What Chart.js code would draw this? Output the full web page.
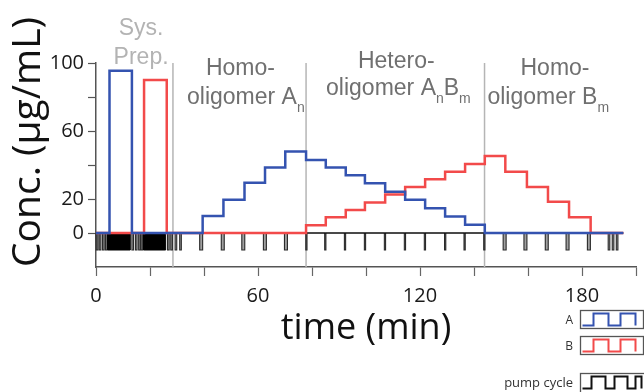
<!DOCTYPE html>
<html>
<head>
<meta charset="utf-8">
<script src="https://cdn.jsdelivr.net/npm/chart.js@4.4.1/dist/chart.umd.min.js"></script>
<style>
  html, body { margin: 0; padding: 0; background: #fff; }
</style>
</head>
<body>
<canvas id="chart" width="644" height="392"></canvas>
<script>
// concentration steps: each value holds from its time until the next time (min, µg/mL)
const timeA = [0, 5, 13.3, 39.5, 47.2, 55, 62.6, 70.1, 77.8, 85.1, 92.5, 99.6, 107.1, 114.5, 121.9, 129.3, 136.7, 144, 195.3];
const concA = [0, 95.5, 0, 10, 19.5, 29.5, 38.5, 48, 43, 38.5, 34, 29.2, 24.3, 19.5, 14.5, 9.7, 4.8, 0, 0];
const timeB = [0, 17.8, 26.2, 77.8, 85.1, 92.5, 99.6, 107.1, 114.5, 121.9, 129.3, 136.7, 144, 151.6, 159.6, 167.4, 175.2, 183.2, 195.3];
const concB = [0, 90, 0, 4.6, 9.2, 13.5, 18, 22.7, 27, 31.6, 36, 40.6, 45.3, 36, 27, 18.4, 9.2, 0, 0];

// pump cycle pulses (min)
const pumpOn  = [0.1, 1.2, 2.4, 3.5, 13.3, 14.6, 15.8, 16.7, 26.5, 27.7, 29.3, 31.0,
                 38.4, 46.4, 54.0, 62.0, 69.8,
                 77.7, 84.7, 92.0, 99.4, 106.8, 114.2, 121.6, 129.1, 136.3, 143.6,
                 150.8, 158.5, 166.4, 174.1, 182.0, 189.7, 191.2, 192.7];
const pumpOff = [0.7, 1.8, 3.0, 4.1, 13.9, 15.2, 16.4, 17.3, 27.1, 28.3, 29.9, 31.6,
                 39.5, 47.5, 55.1, 63.1, 70.9,
                 78.15, 85.15, 92.45, 99.85, 107.25, 114.65, 122.05, 129.55, 136.75, 144.05,
                 151.9, 159.6, 167.5, 175.2, 183.1, 190.3, 191.8, 193.3];
// fast pumping during system prep
const fastOn  = [4.3, 17.6];
const fastOff = [12.7, 25.8];

const phaseEdges = [28.5, 77.8, 143.9];
const xLabels = [0, 60, 120, 180];
const yLabels = [0, 20, 60, 100];

const BLUE = '#3453b0';
const RED = '#f24a4a';
const PUMP_LOW = -10;
const FONT = "'Open Sans', 'Liberation Sans', sans-serif";
const NOTE_FONT = "'Liberation Sans', Arial, sans-serif";

const stepPts = (ts, vs) => ts.map((t, i) => ({ x: t, y: vs[i] }));

function pulsePts(on, off, end) {
  const pts = [{ x: 0, y: 0 }];
  on.forEach((t, i) => {
    pts.push({ x: t, y: 0 }, { x: t, y: PUMP_LOW }, { x: off[i], y: PUMP_LOW }, { x: off[i], y: 0 });
  });
  pts.push({ x: end, y: 0 });
  return pts;
}

const tEnd = timeA[timeA.length - 1];

const datasets = [
  { data: stepPts(timeA, concA), stepped: true, borderColor: BLUE, borderWidth: 2.5, order: 0 },
  { data: stepPts(timeB, concB), stepped: true, borderColor: RED, borderWidth: 2.5, order: 1 },
  { data: pulsePts(fastOn, fastOff, tEnd), borderColor: '#000', borderWidth: 1,
    backgroundColor: '#000', fill: { value: 0 }, order: 2 },
  { data: pulsePts(pumpOn, pumpOff, tEnd), borderColor: '#2a2a2a', borderWidth: 1.1,
    backgroundColor: '#a0a0a0', fill: { value: 0 }, order: 3 },
  ...phaseEdges.map((t) => ({
    data: [{ x: t, y: -20 }, { x: t, y: 100 }], borderColor: '#b5b5b5', borderWidth: 1.5, order: 4,
  })),
];
datasets.forEach((d) => { d.pointRadius = 0; d.borderJoinStyle = 'miter'; d.clip = 4; });

// phase annotations above the plot
const notes = [
  { x: 16.7, y: 35, color: '#b3b3b3', runs: [['Sys.']] },
  { x: 16.7, y: 64, color: '#b3b3b3', runs: [['Prep.']] },
  { x: 53.5, y: 75, color: '#707070', runs: [['Homo-']] },
  { x: 55.5, y: 104, color: '#707070', runs: [['oligomer A'], ['n', 1]] },
  { x: 111.2, y: 68, color: '#707070', runs: [['Hetero-']] },
  { x: 112, y: 95, color: '#707070', runs: [['oligomer A'], ['n', 1], ['B'], ['m', 1]] },
  { x: 170, y: 75, color: '#707070', runs: [['Homo-']] },
  { x: 167.5, y: 104, color: '#707070', runs: [['oligomer B'], ['m', 1]] },
];

const legendItems = [
  { label: 'A', color: BLUE, wave: [2, 13, 28, 40, 55] },
  { label: 'B', color: RED, wave: [2, 13, 28, 40, 55] },
  { label: 'pump cycle', color: '#111', wave: [2, 11, 25, 34, 47, 55, 61] },
];

const decor = {
  id: 'decor',
  afterDraw(chart) {
    const ctx = chart.ctx;
    const xs = chart.scales.x;
    ctx.save();
    ctx.textBaseline = 'alphabetic';
    notes.forEach((n) => {
      const fonts = n.runs.map((r) => (r[1] ? `14px ${NOTE_FONT}` : `23px ${NOTE_FONT}`));
      let w = 0;
      n.runs.forEach((r, i) => { ctx.font = fonts[i]; w += ctx.measureText(r[0]).width; });
      let px = xs.getPixelForValue(n.x) - w / 2;
      ctx.fillStyle = n.color;
      ctx.textAlign = 'left';
      n.runs.forEach((r, i) => {
        ctx.font = fonts[i];
        ctx.fillText(r[0], px, n.y + (r[1] ? 8 : 0));
        px += ctx.measureText(r[0]).width;
      });
    });

    // legend boxes, bottom right
    const boxX = 580.5, boxW = 63, boxH = 18;
    const tops = [310.5, 336.5, 373.5];
    legendItems.forEach((it, i) => {
      const top = tops[i];
      ctx.strokeStyle = '#555';
      ctx.lineWidth = 1.3;
      ctx.strokeRect(boxX, top, boxW + (i === 2 ? 4 : 0), boxH + (i === 2 ? 4 : 0));
      const lo = top + boxH - 3, hi = top + 3;
      ctx.strokeStyle = it.color;
      ctx.lineWidth = 2;
      ctx.beginPath();
      ctx.moveTo(boxX + it.wave[0], lo);
      let y = lo;
      for (let k = 1; k < it.wave.length; k++) {
        const x = boxX + it.wave[k];
        ctx.lineTo(x, y);
        y = y === lo ? hi : lo;
        ctx.lineTo(x, y);
      }
      ctx.stroke();
      ctx.fillStyle = '#333';
      ctx.font = `${i === 2 ? 13 : 12}px ${FONT}`;
      ctx.textAlign = 'right';
      ctx.textBaseline = 'middle';
      ctx.fillText(it.label, 573, top + boxH / 2 + 1);
    });
    ctx.restore();
  },
};

new Chart(document.getElementById('chart'), {
  type: 'line',
  data: { datasets },
  options: {
    responsive: false,
    animation: false,
    events: [],
    layout: { padding: { top: 63, right: 3, left: 0, bottom: 0 } },
    plugins: { legend: { display: false }, tooltip: { enabled: false } },
    scales: {
      x: {
        type: 'linear', min: 0, max: 200,
        afterFit: (s) => { s.height = 125; },
        border: { color: '#555', width: 1.5 },
        grid: { drawOnChartArea: false, tickLength: 9, tickColor: '#666', tickWidth: 1.2 },
        ticks: {
          stepSize: 20, autoSkip: false, maxRotation: 0, padding: 8, color: '#1a1a1a',
          font: { family: FONT, size: 20 },
          callback: (v) => (xLabels.includes(v) ? String(v) : ''),
        },
        title: {
          display: true, text: 'time (min)', color: '#111',
          font: { family: FONT, size: 36 }, padding: { top: 0, bottom: 42 },
        },
      },
      y: {
        type: 'linear', min: -20, max: 100,
        afterFit: (s) => { s.width = 96; },
        border: { color: '#555', width: 1.5 },
        grid: {
          drawOnChartArea: false, tickLength: 8, tickWidth: 1.2,
          tickColor: (c) => (c.tick && c.tick.value < 0 ? 'rgba(0,0,0,0)' : '#555'),
        },
        ticks: {
          stepSize: 20, padding: 4, color: '#1a1a1a',
          font: { family: FONT, size: 20 },
          callback: (v) => (yLabels.includes(v) ? String(v) : ''),
        },
        title: {
          display: true, text: 'Conc. (μg/mL)', align: 'start', color: '#111',
          font: { family: FONT, size: 39 }, padding: { top: 5, bottom: 0 },
        },
      },
    },
  },
  plugins: [decor],
});
</script>
</body>
</html>
